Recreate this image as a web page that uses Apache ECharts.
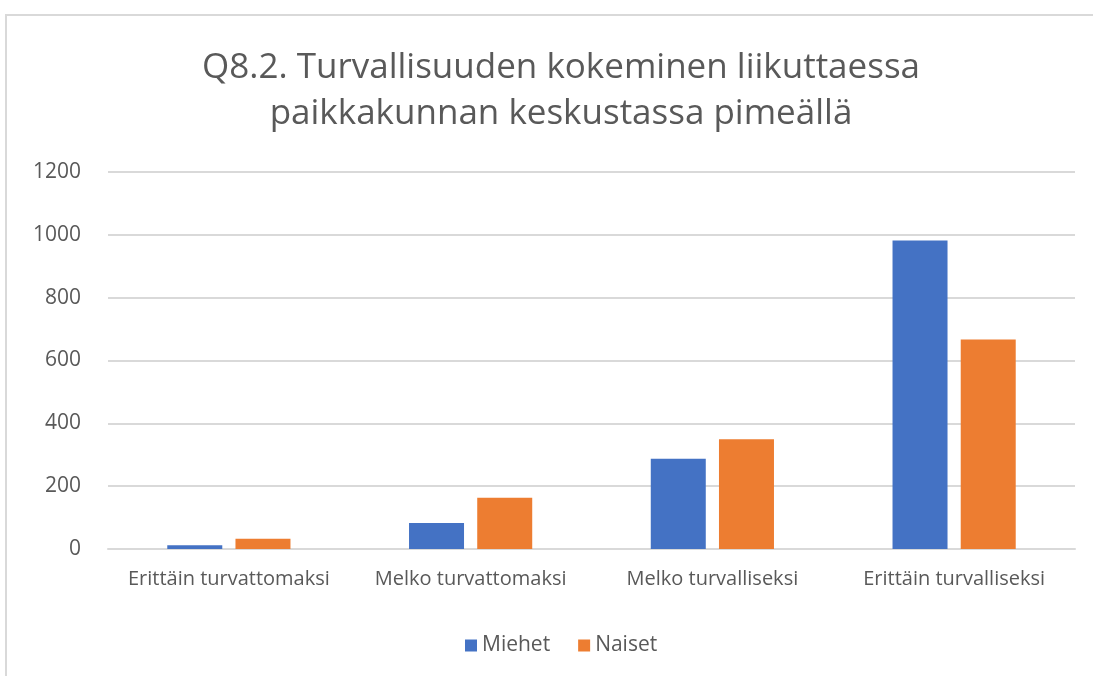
<!DOCTYPE html>
<html>
<head>
<meta charset="utf-8">
<script src="https://cdn.jsdelivr.net/npm/echarts@6/dist/echarts.min.js"></script>
<style>
  html, body { margin: 0; padding: 0; background: #fff; }
  #frame { position: absolute; left: 5px; top: 14px; width: 1200px; height: 700px; border: 2px solid #d9d9d9; }
  #chart { position: absolute; left: 0; top: 0; width: 1093px; height: 676px; }
</style>
</head>
<body>
<div id="frame"></div>
<div id="chart"></div>
<script>
const categories = ['Erittäin turvattomaksi', 'Melko turvattomaksi', 'Melko turvalliseksi', 'Erittäin turvalliseksi']
const miehet = [12, 83, 287, 982]
const naiset = [33, 163, 349, 667]
const titleText = 'Q8.2. Turvallisuuden kokeminen liikuttaessa\npaikkakunnan keskustassa pimeällä'

const chart = echarts.init(document.getElementById('chart'))
const font = 'Open Sans'

chart.setOption({
  animation: false,
  title: {
    text: titleText,
    left: 556,
    textAlign: 'center',
    top: 40,
    textStyle: {
      fontFamily: font,
      fontSize: 35,
      fontWeight: 'normal',
      color: '#595959',
      lineHeight: 46
    }
  },
  legend: {
    data: ['Miehet', 'Naiset'],
    top: 630,
    left: 460,
    itemWidth: 12,
    itemHeight: 12,
    itemGap: 28,
    icon: 'rect',
    textStyle: { fontFamily: font, fontSize: 21, color: '#595959' }
  },
  grid: {
    left: 108,
    right: 18,
    top: 172,
    bottom: 127
  },
  xAxis: {
    type: 'category',
    data: categories,
    axisTick: { show: false },
    axisLine: { lineStyle: { color: '#d9d9d9', width: 2 } },
    axisLabel: { fontFamily: font, fontSize: 20, color: '#595959', margin: 20, interval: 0, hideOverlap: false }
  },
  yAxis: {
    type: 'value',
    min: 0,
    max: 1200,
    interval: 200,
    axisLine: { show: false },
    axisTick: { show: false },
    splitLine: { lineStyle: { color: '#d9d9d9', width: 2 } },
    axisLabel: { fontFamily: font, fontSize: 21, color: '#595959', margin: 27, formatter: v => String(v) }
  },
  series: [
    {
      name: 'Miehet',
      type: 'bar',
      data: miehet,
      barWidth: 55,
      barGap: '24%',
      itemStyle: { color: '#4472c4' }
    },
    {
      name: 'Naiset',
      type: 'bar',
      data: naiset,
      barWidth: 55,
      itemStyle: { color: '#ed7d31' }
    }
  ]
})
</script>
</body>
</html>
